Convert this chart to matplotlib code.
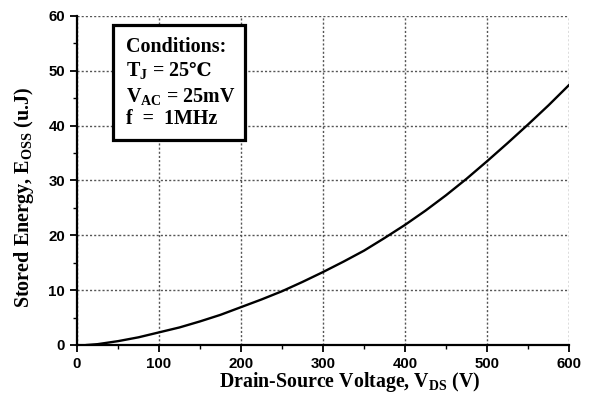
import matplotlib
matplotlib.use("Agg")
import matplotlib.pyplot as plt
from matplotlib.ticker import MultipleLocator
from matplotlib.patches import Rectangle

# curve
vds = [12, 25, 50, 75, 100, 125, 150, 175, 200, 225, 250, 275, 300, 325,
       350, 375, 400, 425, 450, 475, 500, 525, 550, 575, 600]
eoss = [0.0, 0.15, 0.7, 1.4, 2.3, 3.2, 4.3, 5.5, 6.9, 8.3, 9.8, 11.5, 13.3, 15.2,
        17.2, 19.5, 21.9, 24.5, 27.3, 30.3, 33.5, 36.8, 40.2, 43.7, 47.4]

x_ticks = [0, 100, 200, 300, 400, 500, 600]
y_ticks = [0, 10, 20, 30, 40, 50, 60]

plt.rcParams["mathtext.fontset"] = "custom"
plt.rcParams["mathtext.rm"] = "Liberation Serif:bold"
plt.rcParams["mathtext.it"] = "Liberation Serif:bold"
plt.rcParams["mathtext.bf"] = "Liberation Serif:bold"

serif = ["Liberation Serif", "DejaVu Serif"]

fig = plt.figure(figsize=(5.94, 3.97), dpi=100)
ax = fig.add_axes([0.1296, 0.131, 0.8284, 0.829])

ax.plot(vds, eoss, color="black", lw=1.7)

ax.set_xlim(0, 600)
ax.set_ylim(0, 60)
ax.set_xticks(x_ticks)
ax.set_yticks(y_ticks)
ax.xaxis.set_minor_locator(MultipleLocator(50))
ax.yaxis.set_minor_locator(MultipleLocator(5))

ax.grid(True, which="major", linestyle=(0, (1.5, 1.5)), color="#555555", lw=1.0)
for s in ["top", "right"]:
    ax.spines[s].set_visible(False)
for s in ["left", "bottom"]:
    ax.spines[s].set_linewidth(1.6)

ax.tick_params(which="major", direction="out", length=5, width=1.3)
ax.tick_params(which="minor", direction="out", length=3, width=1.0)
for lab in ax.get_xticklabels() + ax.get_yticklabels():
    lab.set_fontfamily("Liberation Sans")
    lab.set_fontweight("bold")
    lab.set_fontsize(10.8)

ax.set_xlabel("Drain-Source Voltage, V$_{\\mathrm{DS}}$ (V)", fontfamily=serif,
              fontweight="bold", fontsize=14.3)
ax.xaxis.set_label_coords(0.554, -0.076)
ax.set_ylabel("Stored Energy, E$_{\\mathrm{OSS}}$ (u.J)", fontfamily=serif,
              fontweight="bold", fontsize=14.5)
ax.yaxis.set_label_coords(-0.083, 0.447)

# conditions box
ax.add_patch(Rectangle((0.0732, 0.6231), 0.2683, 0.3495, transform=ax.transAxes,
                       fc="white", ec="black", lw=2.3, zorder=5))
kw = dict(transform=ax.transAxes, ha="left", va="baseline", fontfamily=serif,
          fontweight="bold", fontsize=14.4, zorder=6)
ax.text(0.0996, 0.8906, "Conditions:", **kw)
tj = ax.text(0.0996, 0.8176, "T$_{\\mathrm{J}}$ = 25", **kw)
ax.text(0.0996, 0.7386, "V$_{\\mathrm{AC}}$ = 25mV", **kw)
ax.text(0.0996, 0.6717, "f  =  1MHz", **kw)

fig.canvas.draw()
bb = tj.get_window_extent()
x_end = ax.transAxes.inverted().transform((bb.x1, bb.y0))[0]
kw2 = dict(kw)
kw2["fontfamily"] = ["DejaVu Serif"]
kw2["fontsize"] = 13.5
ax.text(x_end - 0.004, 0.8176, "\u2103", **kw2)

fig.savefig("out.png", dpi=100)
